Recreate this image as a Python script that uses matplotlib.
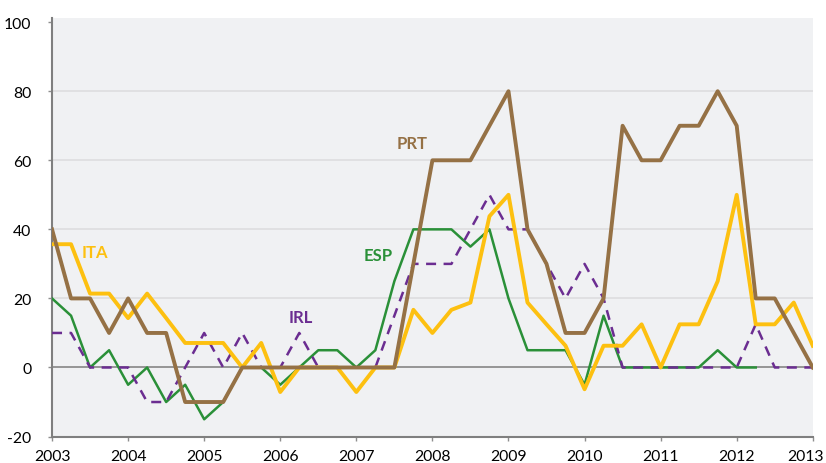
import numpy as np
import matplotlib
matplotlib.use("Agg")
import matplotlib.pyplot as plt
import matplotlib.transforms as mtrans

plt.rcParams['font.family'] = ['Lato', 'DejaVu Sans']
plt.rcParams['axes.unicode_minus'] = False

# quarterly, 2003Q1 .. 2013Q1
quarters = 2003 + 0.25 * np.arange(41)

ita = [35.7, 35.7, 21.4, 21.4, 14.3, 21.4, 14.3, 7.1, 7.1, 7.1,
       0, 7.1, -7.1, 0, 0, 0, -7.1, 0, 0, 16.7,
       10, 16.7, 18.8, 43.8, 50, 18.8, 12.5, 6.3, -6.3, 6.3,
       6.3, 12.5, 0, 12.5, 12.5, 25, 50, 12.5, 12.5, 18.8, 6.3]
prt = [40, 20, 20, 10, 20, 10, 10, -10, -10, -10,
       0, 0, 0, 0, 0, 0, 0, 0, 0, 30,
       60, 60, 60, 70, 80, 40, 30, 10, 10, 20,
       70, 60, 60, 70, 70, 80, 70, 20, 20, 10, 0]
esp = [20, 15, 0, 5, -5, 0, -10, -5, -15, -10,
       0, 0, -5, 0, 5, 5, 0, 5, 25, 40,
       40, 40, 35, 40, 20, 5, 5, 5, -5, 15,
       0, 0, 0, 0, 0, 5, 0, 0, np.nan, np.nan, np.nan]
irl = [10, 10, 0, 0, 0, -10, -10, 0, 10, 0,
       10, 0, 0, 10, 0, 0, 0, 0, 15, 30,
       30, 30, 40, 50, 40, 40, 30, 20, 30, 20,
       0, 0, 0, 0, 0, 0, 0, 12.5, 0, 0, 0]

c_ita = '#FDC010'
c_prt = '#957145'
c_esp = '#2A9038'
c_irl = '#6B2D91'

fig = plt.figure(figsize=(8.26, 4.64), dpi=100)
ax = fig.add_axes([0.063, 0.057, 0.921, 0.902])
ax.set_facecolor('#F0F1F3')

for y in [20, 40, 60, 80]:
    ax.axhline(y, color='#DCDCDE', lw=1.1, zorder=1)
ax.axhline(0, color='#8E8E8E', lw=1.3, zorder=1.5)

ax.plot(quarters, esp, color=c_esp, lw=1.8, zorder=3)
ax.plot(quarters, irl, color=c_irl, lw=1.8, dashes=(4, 3), zorder=4)
ax.plot(quarters, ita, color=c_ita, lw=2.8, zorder=5)
ax.plot(quarters, prt, color=c_prt, lw=2.8, zorder=6)

ax.text(2003.395, 33.3, 'ITA', color=c_ita, fontsize=12, fontweight='bold', va='center')
ax.text(2007.535, 65.1, 'PRT', color=c_prt, fontsize=12, fontweight='bold', va='center')
ax.text(2007.096, 32.5, 'ESP', color=c_esp, fontsize=12, fontweight='bold', va='center')
ax.text(2006.109, 14.7, 'IRL', color=c_irl, fontsize=12, fontweight='bold', va='center')

ax.set_xlim(2003, 2013)
ax.set_ylim(-20, 101.2)
ax.set_xticks(range(2003, 2014))
ax.set_yticks(range(-20, 101, 20))
ax.tick_params(axis='x', length=3, width=1, color='#8E8E8E', pad=6, labelsize=11.3)
ax.tick_params(axis='y', length=3, width=1, color='#8E8E8E', pad=12, labelsize=11.3)

# last year label sits at the very edge, nudge it inside
last = ax.get_xticklabels()[-1]
last.set_transform(last.get_transform() + mtrans.ScaledTranslation(-5 / 72, 0, fig.dpi_scale_trans))

for s in ['top', 'right']:
    ax.spines[s].set_visible(False)
for s in ['left', 'bottom']:
    ax.spines[s].set_color('#7F7F7F')
    ax.spines[s].set_linewidth(1.5)

fig.savefig('out.png', dpi=100, facecolor='white')
